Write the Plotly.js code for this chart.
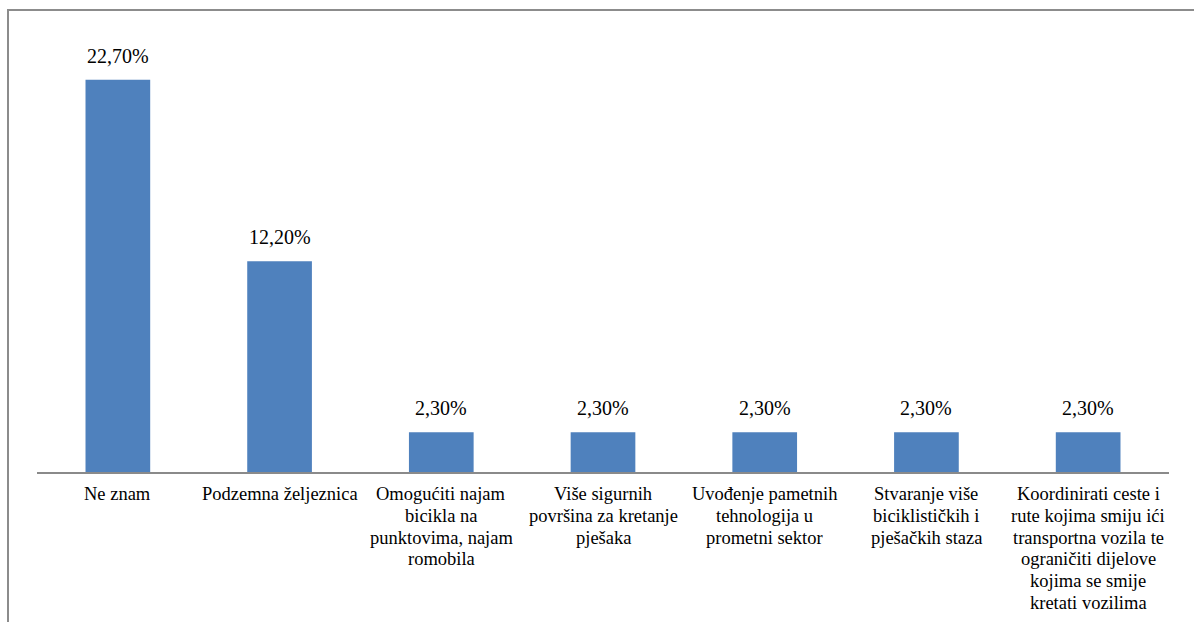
<!DOCTYPE html>
<html>
<head>
<meta charset="utf-8">
<script src="https://cdn.plot.ly/plotly-3.0.1.min.js"></script>
<style>
  html, body { margin: 0; padding: 0; background: #fff; }
  #wrap { position: relative; width: 1194px; height: 622px; overflow: hidden; }
  #frame { position: absolute; left: 7px; top: 9px; width: 1200px; height: 700px;
           border-left: 2px solid #8c8c8c; border-top: 2px solid #8c8c8c; pointer-events: none; }
  #chart { position: absolute; left: 0; top: 0; width: 1194px; height: 622px; }
  #chart svg text { font-family: 'Liberation Serif', serif !important; }
  #preload { position: absolute; left: 0; top: 0; font-family: 'Liberation Serif'; font-size: 20px; color: #fff; opacity: 0.01; }
</style>
</head>
<body>
<div id="wrap">
  <div id="preload">22,70% Ne znam željeznica Omogućiti</div>
  <div id="chart"></div>
  <div id="frame"></div>
</div>
<script>
const categories = [
  "Ne znam",
  "Podzemna željeznica",
  "Omogućiti najam<br>bicikla na<br>punktovima, najam<br>romobila",
  "Više sigurnih<br>površina za kretanje<br>pješaka",
  "Uvođenje pametnih<br>tehnologija u<br>prometni sektor",
  "Stvaranje više<br>biciklističkih i<br>pješačkih staza",
  "Koordinirati ceste i<br>rute kojima smiju ići<br>transportna vozila te<br>ograničiti dijelove<br>kojima se smije<br>kretati vozilima"
];
const values = [22.7, 12.2, 2.3, 2.3, 2.3, 2.3, 2.3];
const valueLabels = ["22,70%", "12,20%", "2,30%", "2,30%", "2,30%", "2,30%", "2,30%"];

const fontFamily = "Liberation Serif";
const xKeys = categories.map(c => c.replace(/<br>/g, ' '));

const annotations = [];
values.forEach((v, i) => {
  annotations.push({
    x: xKeys[i], y: v, xref: 'x', yref: 'y',
    text: valueLabels[i], showarrow: false,
    xanchor: 'center', yanchor: 'middle', yshift: 24,
    font: { family: fontFamily, size: 20, color: '#000' }
  });
});
categories.forEach((c, i) => {
  c.split('<br>').forEach((line, j) => {
    annotations.push({
      x: xKeys[i], y: 0, xref: 'x', yref: 'paper',
      text: line, showarrow: false,
      xanchor: 'center', yanchor: 'middle', yshift: -22 - j * 21.8,
      font: { family: fontFamily, size: 18.5, color: '#000' }
    });
  });
});

const trace = {
  type: 'bar',
  x: xKeys,
  y: values,
  marker: { color: '#4F81BD' },
  width: 0.4,
  hoverinfo: 'none'
};

const layout = {
  width: 1194, height: 622,
  margin: { l: 37, r: 25, t: 39.5, b: 150 },
  paper_bgcolor: 'rgba(0,0,0,0)',
  plot_bgcolor: 'rgba(0,0,0,0)',
  showlegend: false,
  font: { family: fontFamily },
  xaxis: {
    type: 'category',
    showticklabels: false,
    showgrid: false,
    zeroline: false,
    showline: true,
    linecolor: '#8a8a8a',
    linewidth: 1.5,
    ticks: '',
    fixedrange: true
  },
  yaxis: {
    range: [0, 25],
    visible: false,
    showgrid: false,
    zeroline: false,
    fixedrange: true
  },
  annotations: annotations
};

Plotly.newPlot('chart', [trace], layout, { displayModeBar: false, staticPlot: true });
</script>
</body>
</html>
